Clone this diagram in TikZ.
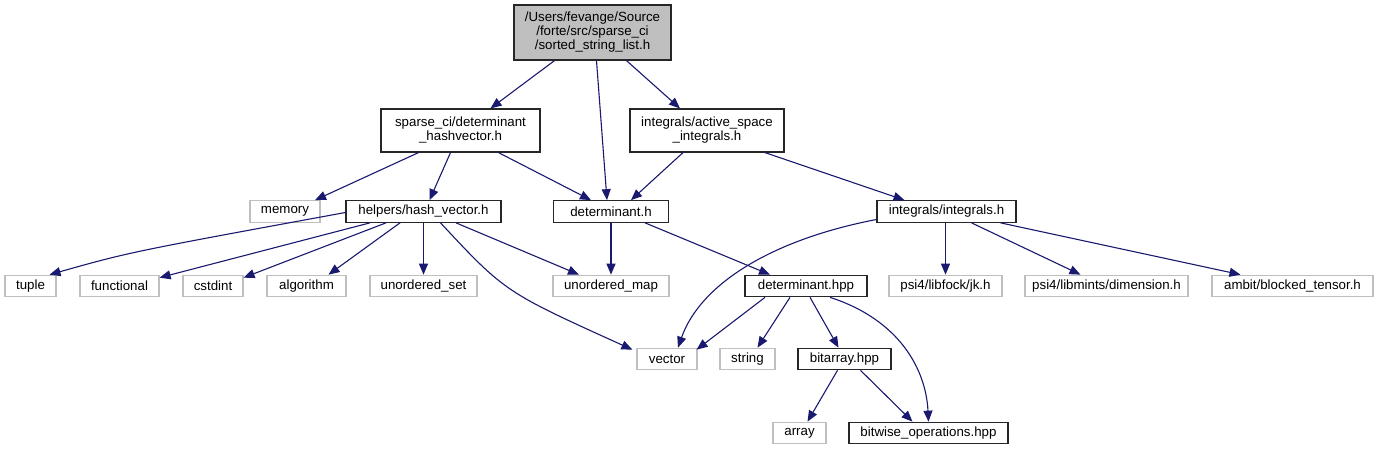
\documentclass[tikz,border=0pt]{standalone}
\usepackage{fontspec}
\setmainfont{Liberation Sans}
\usetikzlibrary{arrows.meta}
\definecolor{edgeblue}{HTML}{191970}
\definecolor{extgray}{HTML}{BFBFBF}
\begin{document}
\begin{tikzpicture}[x=1pt,y=-1pt,
  box/.style={draw, line width=1.2pt, inner sep=0pt, minimum height=21.5, text=black, align=center, font=\fontsize{13.3}{14}\selectfont},
  doc/.style={box, draw=black!85},
  ext/.style={box, draw=extgray},
  rootbox/.style={box, draw=black!85, fill=extgray},
  edge/.style={draw=edgeblue, line width=1.1pt, -{Triangle[length=11pt,width=9pt]}, fill=none},
]
\fill[white] (0,0) rectangle (1385,455);
\useasboundingbox (0,0) rectangle (1385,455);

\node[rootbox, minimum width=157, minimum height=55] (root) at (592.5,32.5) {/Users/fevange/Source\\/forte/src/sparse\_ci\\/sorted\_string\_list.h};
\node[doc, minimum width=159, minimum height=43] (dethash) at (460.5,130.5) {sparse\_ci/determinant\\\_hashvector.h};
\node[doc, minimum width=154, minimum height=43] (active) at (707,130.5) {integrals/active\_space\\\_integrals.h};
\node[ext, minimum width=70] (memory) at (285,211.5) {memory};
\node[doc, minimum width=155] (hashv) at (423.5,211.5) {helpers/hash\_vector.h};
\node[doc, minimum width=115] (deth) at (611,211.5) {determinant.h};
\node[doc, minimum width=139] (integ) at (946.5,211.5) {integrals/integrals.h};
\node[ext, minimum width=51] (tuple) at (30.5,286) {tuple};
\node[ext, minimum width=79] (functional) at (119.5,286) {functional};
\node[ext, minimum width=60] (cstdint) at (213,286) {cstdint};
\node[ext, minimum width=79] (algorithm) at (306.5,286) {algorithm};
\node[ext, minimum width=107] (uset) at (423.5,286) {unordered\_set};
\node[ext, minimum width=116] (umap) at (611,286) {unordered\_map};
\node[doc, minimum width=122] (dhpp) at (806,286) {determinant.hpp};
\node[ext, minimum width=113] (jk) at (945.5,286) {psi4/libfock/jk.h};
\node[ext, minimum width=163] (dim) at (1106.5,286) {psi4/libmints/dimension.h};
\node[ext, minimum width=161] (bt) at (1292.5,286) {ambit/blocked\_tensor.h};
\node[ext, minimum width=60] (vector) at (667,359) {vector};
\node[ext, minimum width=55] (string) at (747.5,359) {string};
\node[doc, minimum width=93] (bitarray) at (844.5,359) {bitarray.hpp};
\node[ext, minimum width=53] (array) at (799.5,433) {array};
\node[doc, minimum width=159] (bitwise) at (928.5,433) {bitwise\_operations.hpp};

\path[edge] ([xshift=-38]root.south) -- ([xshift=30]dethash.north);
\path[edge] ([xshift=4]root.south) -- ([xshift=-4]deth.north);
\path[edge] ([xshift=34]root.south) -- ([xshift=-27]active.north);
\path[edge] ([xshift=-42]dethash.south) -- ([xshift=30]memory.north);
\path[edge] ([xshift=-10]dethash.south) -- ([xshift=6]hashv.north);
\path[edge] ([xshift=38]dethash.south) -- ([xshift=-20]deth.north);
\path[edge] ([xshift=-24]active.south) -- ([xshift=20]deth.north);
\path[edge] ([xshift=58]active.south) -- ([xshift=-42]integ.north);
\path[edge] ([yshift=-1]hashv.west) .. controls (130,252) .. ([xshift=19]tuple.north);
\path[edge] ([xshift=-53.5]hashv.south) -- ([yshift=-3]functional.north east);
\path[edge] ([xshift=-37.5]hashv.south) -- ([yshift=-3]cstdint.north east);
\path[edge] ([xshift=-23.5]hashv.south) -- ([xshift=22]algorithm.north);
\path[edge] (hashv.south) -- (uset.north);
\path[edge] ([xshift=17]hashv.south) .. controls (505,292) .. ([xshift=-4,yshift=-2]vector.north west);
\path[edge] ([xshift=32.5]hashv.south) -- ([xshift=-32]umap.north);
\path[edge] (deth.south) -- (umap.north);
\path[edge] ([xshift=34]deth.south) -- ([xshift=-36]dhpp.north);
\path[edge] ([yshift=-8]integ.west) .. controls (770,240) and (700,285) .. ([xshift=11]vector.north);
\path[edge] ([xshift=-41]dhpp.south) -- ([xshift=-1,yshift=-2]vector.north east);
\path[edge] ([xshift=-16]dhpp.south) -- ([xshift=10]string.north);
\path[edge] ([xshift=4]dhpp.south) -- ([xshift=-6]bitarray.north);
\path[edge] ([xshift=24]dhpp.south) .. controls (900,320) and (926,370) .. (bitwise.north);
\path[edge] ([xshift=-7]bitarray.south) -- ([xshift=8]array.north);
\path[edge] ([xshift=16]bitarray.south) -- ([xshift=-16]bitwise.north);
\path[edge] ([xshift=-1]integ.south) -- (jk.north);
\path[edge] ([xshift=25]integ.south) -- ([xshift=-26]dim.north);
\path[edge] ([xshift=54]integ.south) -- ([xshift=-52]bt.north);
\end{tikzpicture}
\end{document}
